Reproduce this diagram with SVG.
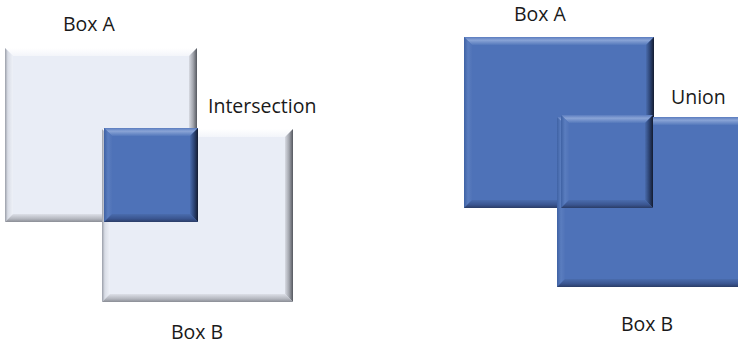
<svg xmlns="http://www.w3.org/2000/svg" width="738" height="344" viewBox="0 0 738 344">
  <defs>
    <!-- pale box bevel gradients -->
    <linearGradient id="paleTop" x1="0" y1="0" x2="0" y2="1">
      <stop offset="0" stop-color="#ffffff"/>
      <stop offset="1" stop-color="#f3f5fa"/>
    </linearGradient>
    <linearGradient id="paleLeft" x1="0" y1="0" x2="1" y2="0">
      <stop offset="0" stop-color="#9a9ea8"/>
      <stop offset="0.35" stop-color="#d9dde6"/>
      <stop offset="1" stop-color="#eef1f8"/>
    </linearGradient>
    <linearGradient id="paleRight" x1="0" y1="0" x2="1" y2="0">
      <stop offset="0" stop-color="#d7dae2"/>
      <stop offset="0.5" stop-color="#a3a6ae"/>
      <stop offset="1" stop-color="#55585f"/>
    </linearGradient>
    <linearGradient id="paleBottom" x1="0" y1="0" x2="0" y2="1">
      <stop offset="0" stop-color="#dde0e8"/>
      <stop offset="0.6" stop-color="#b4b7bf"/>
      <stop offset="1" stop-color="#8a8d95"/>
    </linearGradient>
    <!-- blue box bevel gradients -->
    <linearGradient id="blueTop" x1="0" y1="0" x2="0" y2="1">
      <stop offset="0" stop-color="#5a7cbf"/>
      <stop offset="0.4" stop-color="#8aa4d6"/>
      <stop offset="1" stop-color="#5478bb"/>
    </linearGradient>
    <linearGradient id="blueLeft" x1="0" y1="0" x2="1" y2="0">
      <stop offset="0" stop-color="#3f62a4"/>
      <stop offset="0.5" stop-color="#5a7dbf"/>
      <stop offset="1" stop-color="#5073b8"/>
    </linearGradient>
    <linearGradient id="blueRight" x1="0" y1="0" x2="1" y2="0">
      <stop offset="0" stop-color="#4a6cad"/>
      <stop offset="0.5" stop-color="#2d4576"/>
      <stop offset="1" stop-color="#141c30"/>
    </linearGradient>
    <linearGradient id="blueBottom" x1="0" y1="0" x2="0" y2="1">
      <stop offset="0" stop-color="#4a6cad"/>
      <stop offset="0.6" stop-color="#3a5590"/>
      <stop offset="1" stop-color="#2a3c66"/>
    </linearGradient>
  </defs>
  <style>
    .label { font-family: "Open Sans", "Liberation Sans", sans-serif; font-size: 19.5px; fill: #1a1a1a; }
    .pale .face { fill: #e9edf6; }
    .pale .top { fill: url(#paleTop); }
    .pale .left { fill: url(#paleLeft); }
    .pale .right { fill: url(#paleRight); }
    .pale .bottom { fill: url(#paleBottom); }
    .blue .face { fill: #4e72b8; }
    .blue .top { fill: url(#blueTop); }
    .blue .left { fill: url(#blueLeft); }
    .blue .right { fill: url(#blueRight); }
    .blue .bottom { fill: url(#blueBottom); }
  </style>

  <!-- Intersection: Box A, Box B, and their overlap -->
  <g id="intersect-box-a" class="pale">
    <rect class="face" x="5" y="48" width="192" height="174"/>
    <polygon class="top" points="5,48 197,48 189,56 13,56"/>
    <polygon class="left" points="5,48 13,56 13,214 5,222"/>
    <polygon class="right" points="197,48 197,222 189,214 189,56"/>
    <polygon class="bottom" points="5,222 197,222 189,214 13,214"/>
  </g>
  <g id="intersect-box-b" class="pale">
    <rect class="face" x="102" y="129" width="191" height="173"/>
    <polygon class="top" points="102,129 293,129 285,137 110,137"/>
    <polygon class="left" points="102,129 110,137 110,294 102,302"/>
    <polygon class="right" points="293,129 293,302 285,294 285,137"/>
    <polygon class="bottom" points="102,302 293,302 285,294 110,294"/>
  </g>
  <g id="intersect-overlap" class="blue">
    <rect class="face" x="104" y="128" width="94" height="94"/>
    <polygon class="top" points="104,128 198,128 190,136 112,136"/>
    <polygon class="left" points="104,128 112,136 112,214 104,222"/>
    <polygon class="right" points="198,128 198,222 190,214 190,136"/>
    <polygon class="bottom" points="104,222 198,222 190,214 112,214"/>
  </g>

  <!-- Union: Box A, Box B, and their overlap -->
  <g id="union-box-a" class="blue">
    <rect class="face" x="464" y="37" width="190" height="171"/>
    <polygon class="top" points="464,37 654,37 646,45 472,45"/>
    <polygon class="left" points="464,37 472,45 472,200 464,208"/>
    <polygon class="right" points="654,37 654,208 646,200 646,45"/>
    <polygon class="bottom" points="464,208 654,208 646,200 472,200"/>
  </g>
  <g id="union-box-b" class="blue">
    <rect class="face" x="557" y="117" width="190" height="170"/>
    <polygon class="top" points="557,117 747,117 739,125 565,125"/>
    <polygon class="left" points="557,117 565,125 565,279 557,287"/>
    <polygon class="right" points="747,117 747,287 739,279 739,125"/>
    <polygon class="bottom" points="557,287 747,287 739,279 565,279"/>
  </g>
  <g id="union-overlap" class="blue">
    <rect class="face" x="561" y="115" width="92" height="93"/>
    <polygon class="top" points="561,115 653,115 645,123 569,123"/>
    <polygon class="left" points="561,115 569,123 569,200 561,208"/>
    <polygon class="right" points="653,115 653,208 645,200 645,123"/>
    <polygon class="bottom" points="561,208 653,208 645,200 569,200"/>
  </g>

  <!-- labels -->
  <g id="labels">
    <text class="label" x="63" y="31">Box A</text>
    <text class="label" x="208" y="113">Intersection</text>
    <text class="label" x="171" y="339">Box B</text>
    <text class="label" x="514" y="21">Box A</text>
    <text class="label" x="671" y="104">Union</text>
    <text class="label" x="621" y="331">Box B</text>
  </g>
</svg>
